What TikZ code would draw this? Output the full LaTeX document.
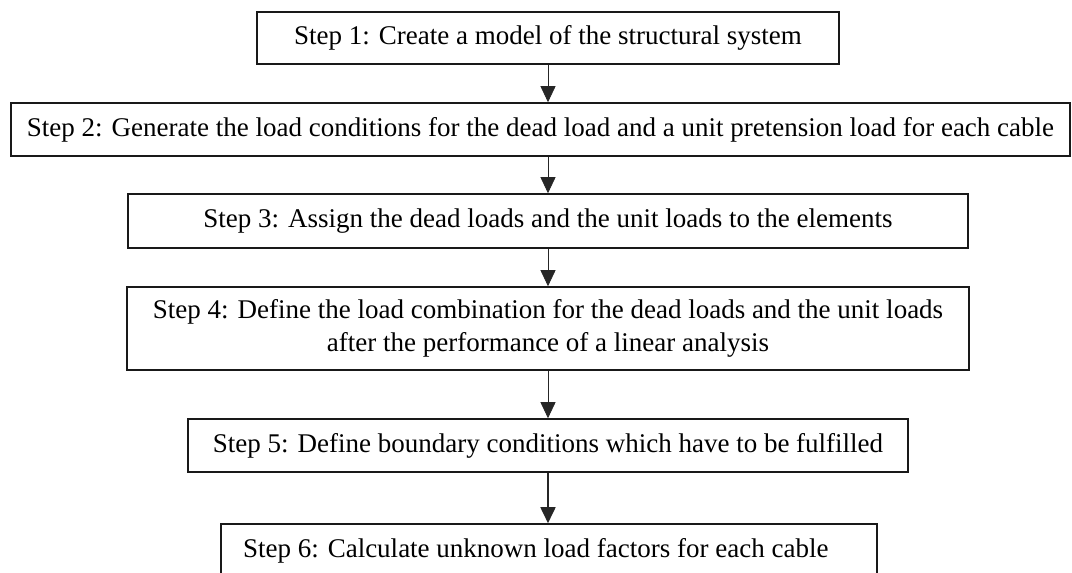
\documentclass[tikz,border=0pt]{standalone}
\usepackage{fontspec}
\setmainfont{Liberation Serif}
\usetikzlibrary{arrows.meta,positioning}

\begin{document}
\begin{tikzpicture}[
        x=1pt, y=-1pt,
        box/.style={rectangle, draw=black!90, line width=1.6pt, align=center, inner sep=0pt, font=\fontsize{27}{33}\selectfont},
        arrow/.style={-{Triangle[width=15pt, length=16pt]}, line width=0.8pt, black!85}
    ]
        \useasboundingbox (0,0) rectangle (1072,573);

        % Steps
        \node[box, minimum width=582pt, minimum height=52pt] (model) at (548,38) {Step 1: Create a model of the structural system};
        \node[box, minimum width=1059pt, minimum height=53pt] (loads) at (540.5,129.5) {Step 2: Generate the load conditions for the dead load and a unit pretension load for each cable};
        \node[box, minimum width=840pt, minimum height=54pt] (assign) at (548,221) {Step 3: Assign the dead loads and the unit loads to the elements};
        \node[box, minimum width=842pt, minimum height=83pt] (combo) at (548,328.5) {Step 4: Define the load combination for the dead loads and the unit loads\\after the performance of a linear analysis};
        \node[box, minimum width=720pt, minimum height=53pt] (bound) at (548,445.5) {Step 5: Define boundary conditions which have to be fulfilled};
        \node[box, text width=612pt, inner xsep=22pt, align=flush left, minimum height=53pt] (factors) at (549,550.5) {Step 6: Calculate unknown load factors for each cable};

        % Arrows
        \draw[arrow] (model.south) -- (model.south |- loads.north);
        \draw[arrow] (assign.north |- loads.south) -- (assign.north);
        \draw[arrow] (assign.south) -- (combo.north);
        \draw[arrow] (combo.south) -- (bound.north);
        \draw[arrow, line width=1.8pt] (bound.south) -- (bound.south |- factors.north);
\end{tikzpicture}
\end{document}
